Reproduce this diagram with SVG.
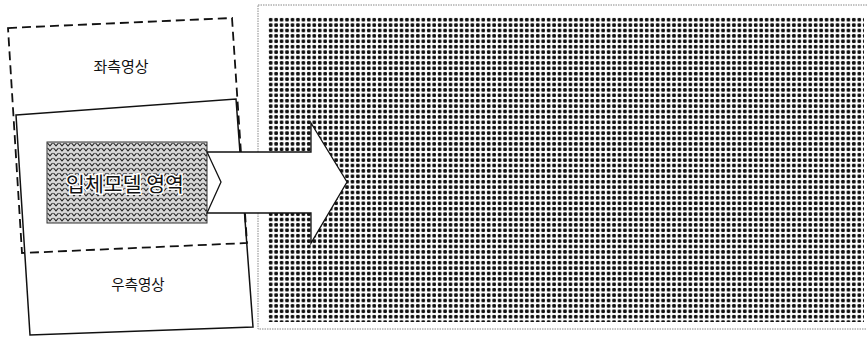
<svg xmlns="http://www.w3.org/2000/svg" width="867" height="338" viewBox="0 0 867 338">
  <style>
    .lbl { font-family: "Noto Sans CJK KR", "Noto Sans", sans-serif; fill: #111; text-anchor: middle; }
    .dash { fill: none; stroke: #111; stroke-width: 1.8; stroke-dasharray: 9 5; }
    .solid { fill: none; stroke: #111; stroke-width: 1.5; }
  </style>
  <defs>
    <pattern id="dots" x="268" y="17" width="5.45" height="5.4" patternUnits="userSpaceOnUse">
      <rect x="0.9" y="0.9" width="3.6" height="3.6" rx="1.2" fill="#111"/>
    </pattern>
    <pattern id="hatch" x="47" y="142" width="6" height="5" patternUnits="userSpaceOnUse">
      <rect width="6" height="5" fill="#d8d8d8"/>
      <path d="M0.5,1 L3,3.8 L5.5,1" fill="none" stroke="#222" stroke-width="1.1"/>
    </pattern>
  </defs>

  <g id="panel">
    <rect x="258" y="5" width="612" height="324" fill="#fff" stroke="#888" stroke-width="1" stroke-dasharray="1.5 1"/>
    <rect x="268" y="17" width="596" height="305" fill="url(#dots)"/>
  </g>

  <g id="right-image">
    <polygon class="solid" points="16,115 236,99 253,327 30,335" fill="#fff"/>
    <text class="lbl" x="138" y="290" font-size="14.5">우측영상</text>
  </g>

  <g id="left-image">
    <polygon class="dash" points="8,28 232,18 247,243 22,253"/>
    <text class="lbl" x="121" y="72" font-size="15">좌측영상</text>
  </g>

  <g id="overlap-region">
    <rect x="47" y="142" width="160" height="81" fill="url(#hatch)" stroke="#333" stroke-width="1"/>
    <text class="lbl" x="125" y="192" font-size="20.5" stroke="#fff" stroke-width="3" paint-order="stroke" fill="#222">입체모델 영역</text>
  </g>

  <g id="connectors">
    <polygon points="207,152 311,152 311,123 347,182 311,243 311,213 207,213 221,182" fill="#fff" stroke="#111" stroke-width="1.3" stroke-linejoin="miter"/>
  </g>
</svg>
